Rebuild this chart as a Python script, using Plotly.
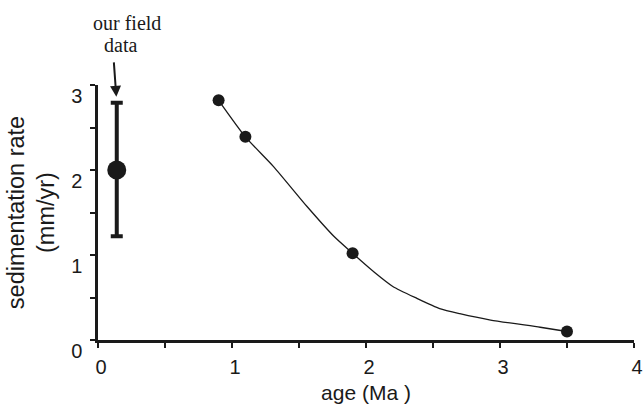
import plotly.graph_objects as go

# ---- data ----
site_age = [0.9, 1.1, 1.9, 3.5]
site_rate = [2.82, 2.39, 1.02, 0.10]

curve_age = [0.9, 1.1, 1.31, 1.56, 1.76, 1.9, 2.06, 2.2, 2.38, 2.55, 2.7, 2.93, 3.3, 3.5]
curve_rate = [2.82, 2.39, 2.04, 1.57, 1.22, 1.02, 0.80, 0.63, 0.49, 0.37, 0.31, 0.235, 0.15, 0.10]

field_age = [0.14]
field_rate = [2.0]
field_err_plus = [0.79]
field_err_minus = [0.78]

x_tickvals = [0, 0.5, 1, 1.5, 2, 2.5, 3, 3.5, 4]
x_ticktext = ["0", "", "1", "", "2", "", "3", "", "4"]
y_tickvals = [0, 0.5, 1, 1.5, 2, 2.5, 3]
y_ticktext = ["0", "", "1", "", "2", "", "3"]

INK = "#1a1a1a"
SANS = "Liberation Sans, Arial, sans-serif"
SERIF = "Liberation Serif, Times New Roman, serif"

fig = go.Figure()

fig.add_trace(go.Scatter(
    x=curve_age, y=curve_rate, mode="lines",
    line=dict(color=INK, width=1.3, shape="spline", smoothing=0.6),
    hoverinfo="skip", showlegend=False, cliponaxis=False,
))
fig.add_trace(go.Scatter(
    x=site_age, y=site_rate, mode="markers",
    marker=dict(color=INK, size=12),
    showlegend=False, cliponaxis=False,
))
fig.add_trace(go.Scatter(
    x=field_age, y=field_rate, mode="markers",
    marker=dict(color=INK, size=19),
    error_y=dict(type="data", symmetric=False, array=field_err_plus,
                 arrayminus=field_err_minus, color=INK, thickness=4, width=6),
    showlegend=False, cliponaxis=False,
))

# annotation text + arrow
fig.add_annotation(x=field_age[0], y=field_rate[0] + field_err_plus[0],
                   xref="x", yref="y", text="", showarrow=True,
                   arrowhead=2, arrowsize=1.1, arrowwidth=2, arrowcolor=INK,
                   ax=-3, ay=-42, standoff=6)
fig.add_annotation(x=0.14, y=1.0, xref="x", yref="paper", yshift=62, xshift=10,
                   yanchor="middle", text="our field", showarrow=False,
                   font=dict(family=SERIF, size=20, color=INK))
fig.add_annotation(x=0.14, y=1.0, xref="x", yref="paper", yshift=40, xshift=4,
                   yanchor="middle", text="data", showarrow=False,
                   font=dict(family=SERIF, size=20, color=INK))

fig.update_layout(
    width=644, height=411,
    margin=dict(l=98, r=10, t=85, b=71, autoexpand=False),
    paper_bgcolor="white", plot_bgcolor="white",
    font=dict(family=SANS, color=INK),
    xaxis=dict(
        range=[0, 4], showgrid=False, zeroline=False, automargin=False,
        showline=True, linecolor=INK, linewidth=2.5,
        tickmode="array", tickvals=x_tickvals, ticktext=x_ticktext,
        ticks="outside", ticklen=5, tickwidth=1.5, tickcolor=INK,
        tickfont=dict(size=20, family=SANS, color=INK),
        ticklabelshift=3, ticklabelstandoff=2,
        title=dict(text="age (Ma )", font=dict(size=21, family=SANS, color=INK), standoff=9),
    ),
    yaxis=dict(
        range=[0, 3], showgrid=False, zeroline=False, automargin=False,
        showline=True, linecolor=INK, linewidth=2.5,
        tickmode="array", tickvals=y_tickvals, ticktext=y_ticktext,
        ticks="outside", ticklen=5, tickwidth=1.5, tickcolor=INK,
        tickfont=dict(size=20, family=SANS, color=INK),
        ticklabelshift=11, ticklabelstandoff=4,
        title=dict(text="sedimentation rate<br>(mm/yr)", font=dict(size=23.5, family=SANS, color=INK), standoff=10),
    ),
)

fig.write_html("out.html", config={"displayModeBar": False},
               post_script="document.body.style.margin='0';")
